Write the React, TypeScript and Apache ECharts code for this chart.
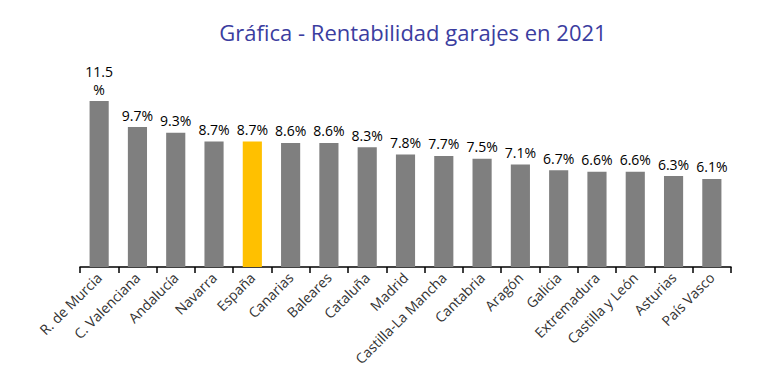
import React, { useEffect, useRef } from "react";
import * as echarts from "echarts";

const categories = ["R. de Murcia", "C. Valenciana", "Andalucía", "Navarra", "España", "Canarias", "Baleares", "Cataluña", "Madrid", "Castilla-La Mancha", "Cantabria", "Aragón", "Galicia", "Extremadura", "Castilla y León", "Asturias", "País Vasco"];
const values = [11.5, 9.7, 9.3, 8.7, 8.7, 8.6, 8.6, 8.3, 7.8, 7.7, 7.5, 7.1, 6.7, 6.6, 6.6, 6.3, 6.1];
const labels = ["11.5\n%", "9.7%", "9.3%", "8.7%", "8.7%", "8.6%", "8.6%", "8.3%", "7.8%", "7.7%", "7.5%", "7.1%", "6.7%", "6.6%", "6.6%", "6.3%", "6.1%"];
const highlight = "España";

export default function App() {
  const ref = useRef<HTMLDivElement>(null);
  useEffect(() => {
    const chart = echarts.init(ref.current!, null, { renderer: "svg" });
    chart.setOption({
      animation: false,
      title: {
        text: "Gráfica - Rentabilidad garajes en 2021",
        left: 400,
        textAlign: "center",
        top: 8,
        textStyle: { fontFamily: "Open Sans", fontSize: 22, fontWeight: "normal", color: "#3b3d9f" },
      },
      grid: { left: 72, right: 29, top: 57, bottom: 115 },
      xAxis: {
        type: "category",
        data: categories,
        axisLine: { lineStyle: { color: "#000", width: 1.5 } },
        axisTick: { show: true, length: 6, lineStyle: { color: "#000", width: 1.5 } },
        axisLabel: { rotate: 45, interval: 0, fontFamily: "Open Sans", fontSize: 14, color: "#333", margin: 8 },
      },
      yAxis: { type: "value", min: 0, max: 14, show: false, splitLine: { show: false } },
      series: [
        {
          type: "bar",
          barWidth: "50%",
          data: values.map((v, i) => ({
            value: v,
            itemStyle: { color: categories[i] === highlight ? "#ffc000" : "#7f7f7f" },
            label: { formatter: labels[i] },
          })),
          label: {
            show: true,
            position: "top",
            fontFamily: "Open Sans",
            fontSize: 14,
            color: "#000",
            lineHeight: 18,
            distance: 3,
          },
        },
      ],
    });
    return () => chart.dispose();
  }, []);
  return <div ref={ref} style={{ width: 752, height: 374 }} />;
}
